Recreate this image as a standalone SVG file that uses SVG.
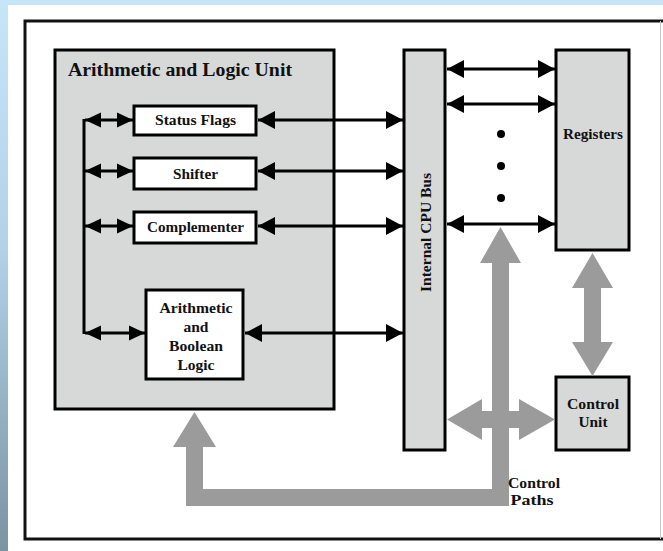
<svg xmlns="http://www.w3.org/2000/svg" width="663" height="551" viewBox="0 0 663 551">
  <defs>
    <linearGradient id="edge" x1="0" y1="0" x2="0" y2="1">
      <stop offset="0" stop-color="#c6e5f9"/>
      <stop offset="0.45" stop-color="#b2d2e8"/>
      <stop offset="1" stop-color="#7b93a3"/>
    </linearGradient>
    <marker id="ah" markerUnits="userSpaceOnUse" markerWidth="17" markerHeight="18" refX="17" refY="9" orient="auto-start-reverse" viewBox="0 0 17 18">
      <path d="M0,0 L17,9 L0,18 Z" fill="#000"/>
    </marker>
    <marker id="ahs" markerUnits="userSpaceOnUse" markerWidth="16" markerHeight="16" refX="16" refY="8" orient="auto-start-reverse" viewBox="0 0 16 16">
      <path d="M0,0.5 L16,8 L0,15.5 Z" fill="#000"/>
    </marker>
  </defs>
  <style>
    .box { fill: #d7d9d9; stroke: #000; stroke-width: 3; }
    .unit { fill: #fff; stroke: #000; stroke-width: 3; }
    .lbl { font-family: "Liberation Serif", "Times New Roman", serif; font-weight: bold; font-size: 15px; fill: #111; text-anchor: middle; }
    .wire { stroke: #000; stroke-width: 3; fill: none; }
    .big { fill: #9b9b9b; }
  </style>

  <!-- page background -->
  <rect x="0" y="0" width="663" height="551" fill="#c6e5f9"/>
  <rect x="0" y="0" width="8" height="551" fill="url(#edge)"/>
  <rect x="8" y="5" width="655" height="546" fill="#fff"/>

  <!-- frame -->
  <path d="M663,21 L25,21 L25,539 L663,539" fill="none" stroke="#111" stroke-width="3"/>
  <line x1="660.5" y1="21" x2="660.5" y2="539" stroke="#c8c8c8" stroke-width="1"/>

  <!-- ALU -->
  <g id="alu">
    <rect class="box" x="55" y="50" width="279" height="359"/>
    <text class="lbl" x="68" y="76" style="font-size:18.5px;text-anchor:start" textLength="224" lengthAdjust="spacingAndGlyphs">Arithmetic and Logic Unit</text>
  </g>
  <g id="status-flags">
    <rect class="unit" x="134" y="106" width="122" height="29"/>
    <text class="lbl" x="195.5" y="125" textLength="81" lengthAdjust="spacingAndGlyphs">Status Flags</text>
  </g>
  <g id="shifter">
    <rect class="unit" x="134" y="158" width="122" height="31"/>
    <text class="lbl" x="195.5" y="179" textLength="45" lengthAdjust="spacingAndGlyphs">Shifter</text>
  </g>
  <g id="complementer">
    <rect class="unit" x="134" y="212" width="122" height="31"/>
    <text class="lbl" x="195.5" y="232" textLength="97" lengthAdjust="spacingAndGlyphs">Complementer</text>
  </g>
  <g id="arith-bool">
    <rect class="unit" x="146" y="290" width="97" height="89"/>
    <text class="lbl" x="196" y="313" textLength="73" lengthAdjust="spacingAndGlyphs">Arithmetic</text>
    <text class="lbl" x="196" y="332" textLength="25" lengthAdjust="spacingAndGlyphs">and</text>
    <text class="lbl" x="196" y="351" textLength="54" lengthAdjust="spacingAndGlyphs">Boolean</text>
    <text class="lbl" x="196" y="370" textLength="37" lengthAdjust="spacingAndGlyphs">Logic</text>
  </g>

  <!-- internal bus -->
  <g id="cpu-bus">
    <rect class="box" x="404" y="50" width="41" height="400"/>
    <text class="lbl" transform="translate(431,232.5) rotate(-90)" textLength="119" lengthAdjust="spacingAndGlyphs">Internal CPU Bus</text>
  </g>

  <g id="registers">
    <rect class="box" x="556" y="50" width="73" height="200"/>
    <text class="lbl" x="593" y="139" textLength="60" lengthAdjust="spacingAndGlyphs">Registers</text>
  </g>

  <g id="control-unit">
    <rect class="box" x="556" y="377" width="73" height="73"/>
    <text class="lbl" x="593" y="409" textLength="52" lengthAdjust="spacingAndGlyphs">Control</text>
    <text class="lbl" x="593" y="427" textLength="29" lengthAdjust="spacingAndGlyphs">Unit</text>
  </g>

  <g id="connectors">
    <!-- ALU internal links -->
    <line class="wire" x1="84" y1="119" x2="84" y2="334"/>
    <line class="wire" x1="85" y1="120" x2="133" y2="120" marker-start="url(#ahs)" marker-end="url(#ahs)"/>
    <line class="wire" x1="85" y1="171" x2="133" y2="171" marker-start="url(#ahs)" marker-end="url(#ahs)"/>
    <line class="wire" x1="85" y1="226" x2="133" y2="226" marker-start="url(#ahs)" marker-end="url(#ahs)"/>
    <line class="wire" x1="85" y1="333" x2="145" y2="333" marker-start="url(#ahs)" marker-end="url(#ahs)"/>

    <!-- ALU units to bus -->
    <line class="wire" x1="258" y1="120" x2="403" y2="120" marker-start="url(#ah)" marker-end="url(#ah)"/>
    <line class="wire" x1="258" y1="171" x2="403" y2="171" marker-start="url(#ah)" marker-end="url(#ah)"/>
    <line class="wire" x1="258" y1="226" x2="403" y2="226" marker-start="url(#ah)" marker-end="url(#ah)"/>
    <line class="wire" x1="245" y1="333" x2="403" y2="333" marker-start="url(#ah)" marker-end="url(#ah)"/>

    <!-- bus to registers -->
    <line class="wire" x1="447" y1="69" x2="555" y2="69" marker-start="url(#ah)" marker-end="url(#ah)"/>
    <line class="wire" x1="447" y1="104" x2="555" y2="104" marker-start="url(#ah)" marker-end="url(#ah)"/>
    <line class="wire" x1="447" y1="224" x2="555" y2="224" marker-start="url(#ah)" marker-end="url(#ah)"/>
    <circle cx="501" cy="134" r="4" fill="#000"/>
    <circle cx="501" cy="166" r="4" fill="#000"/>
    <circle cx="501" cy="198" r="4" fill="#000"/>

    <!-- control paths -->
    <path class="big" d="M194.5,412 L216,447 L203,447 L203,489 L492,489 L492,263 L480,263 L500.5,227 L521,263 L509,263 L509,506 L186,506 L186,447 L173,447 Z"/>
    <path class="big" d="M447,419.5 L482,399 L482,411 L519,411 L519,399 L555,419.5 L519,440 L519,428 L482,428 L482,440 Z"/>
    <path class="big" d="M592.5,253 L613,288 L601,288 L601,342 L613,342 L592.5,376 L572,342 L584,342 L584,288 L572,288 Z"/>
    <text class="lbl" x="534" y="488" textLength="52" lengthAdjust="spacingAndGlyphs">Control</text>
    <text class="lbl" x="532" y="505" textLength="43" lengthAdjust="spacingAndGlyphs">Paths</text>
  </g>
</svg>
